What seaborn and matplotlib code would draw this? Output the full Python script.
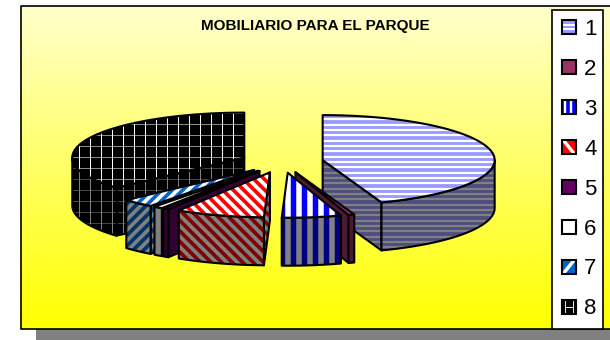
import numpy as np
import matplotlib
matplotlib.use("Agg")
import matplotlib.pyplot as plt
import seaborn as sns
from matplotlib.patches import Polygon, Rectangle, Patch
from matplotlib.collections import LineCollection
from matplotlib.legend_handler import HandlerBase

# ---- data (degrees of the 3D pie)
categories = ["1", "2", "3", "4", "5", "6", "7", "8"]
values = [160, 2, 20, 30, 2, 3, 11, 132]
title_text = "MOBILIARIO PARA EL PARQUE"

face_colors = ["#9999FF", "#993366", "#0000FF", "#FF0000", "#660066", "#FFFFFF", "#0066CC", "#000000"]
stripe_colors = ["#FFFFFF", None, "#FFFFFF", "#FFFFFF", None, None, "#FFFFFF", "#FFFFFF"]
patterns = ["h", None, "v", "d", None, None, "u", "g"]
draw_order = [7, 0, 1, 2, 6, 5, 4, 3]

sns.set_theme(style="white")
plt.rcParams["font.family"] = ["Liberation Sans", "DejaVu Sans"]

fig = plt.figure(figsize=(6.1, 3.4), dpi=100)
ax = fig.add_axes([0, 0, 1, 1])
ax.set_xlim(0, 610)
ax.set_ylim(340, 0)
ax.axis("off")
PX = 72 / fig.dpi

# chart frame, gradient and shadow
ax.add_patch(Rectangle((36, 320), 574, 20, fc="#808080", ec="none", zorder=0))
grad = np.linspace(0, 1, 256)[:, None]
img = np.zeros((256, 1, 3))
img[..., 0] = 1
img[..., 1] = 1
img[..., 2] = 0.80 * (1 - grad)
ax.imshow(img, extent=(20, 610, 329, 5), aspect="auto", zorder=1, interpolation="bilinear")
ax.set_xlim(0, 610)
ax.set_ylim(340, 0)
ax.plot([610, 20.5, 20.5, 610], [5.5, 5.5, 329, 329], color="black", lw=1.2, zorder=2)

ax.text(315, 26, title_text, ha="center", va="center", fontsize=11,
        fontweight="bold", color="black", zorder=5)

# pie geometry
CX, CY = 282, 162
RX, RY = 172, 45
EXPLODE = 0.24
DEPTH = 48


def darken(c, f=0.5):
    r = np.array(matplotlib.colors.to_rgb(c))
    return tuple(r * f)


def stripes(kind):
    """Segments covering the whole chart for a fill pattern, with per-segment widths."""
    if kind == "h":
        segs = [[(0, y), (610, y)] for y in np.arange(2, 340, 5.33)]
        return segs, [2.2] * len(segs)
    if kind == "v":
        segs = [[(x, 0), (x, 340)] for x in np.arange(2, 610, 11)]
        return segs, [5.5] * len(segs)
    if kind == "d":
        segs = [[(x, 0), (x + 340, 340)] for x in np.arange(-340, 610, 10.5)]
        return segs, [3.7] * len(segs)
    if kind == "u":
        segs = [[(x, 0), (x - 340, 340)] for x in np.arange(0, 950, 10.5)]
        return segs, [3.7] * len(segs)
    if kind == "g":
        vs = [[(x, 0), (x, 340)] for x in np.arange(1.5, 610, 11)]
        hs = [[(0, y), (610, y)] for y in np.arange(2.5, 340, 11)]
        return vs + hs, [1.0] * len(vs) + [0.55] * len(hs)
    return [], []


def fill(pts, base, stripe, kind, z, lw=1.5):
    poly = Polygon(pts, closed=True, fc=base, ec="none", zorder=z)
    ax.add_patch(poly)
    if kind and stripe:
        segs, w = stripes(kind)
        lc = LineCollection(segs, colors=[stripe], linewidths=np.array(w) * PX, zorder=z, capstyle="butt")
        ax.add_collection(lc, autolim=False)
        lc.set_clip_path(poly)
    ax.add_patch(Polygon(pts, closed=True, fc="none", ec="black", lw=lw, zorder=z, joinstyle="round"))


edges = np.concatenate([[0], np.cumsum(values)]) * 360.0 / np.sum(values)


def rim(apex, deg):
    t = np.radians(deg)
    return np.column_stack([apex[0] + RX * np.sin(t), apex[1] - RY * np.cos(t)])


z = 3.0
for i in draw_order:
    a0, a1 = edges[i], edges[i + 1]
    mid = np.radians((a0 + a1) / 2)
    apex = (CX + EXPLODE * RX * np.sin(mid), CY - EXPLODE * RY * np.cos(mid))
    base, stripe, kind = face_colors[i], stripe_colors[i], patterns[i]
    dark_base = darken(base)
    dark_stripe = darken(stripe) if stripe else None

    def side(pts):
        fill(pts, dark_base, dark_stripe, kind, z)

    # cut faces seen from the front
    for deg, visible in ((a0, a0 > 180), (a1, a1 < 180)):
        if visible:
            r = rim(apex, [deg])[0]
            side([apex, r, (r[0], r[1] + DEPTH), (apex[0], apex[1] + DEPTH)])
    # outer wall, front half only
    lo, hi = max(a0, 90), min(a1, 270)
    if hi > lo:
        arc = rim(apex, np.linspace(lo, hi, 60))
        side(np.vstack([arc, arc[::-1] + [0, DEPTH]]))
    # top face
    arc = rim(apex, np.linspace(a0, a1, 120))
    fill(np.vstack([[apex], arc]), base, stripe, kind, z + 0.01)
    z += 0.1


# legend
class KeyHandler(HandlerBase):
    def create_artists(self, legend, orig, xd, yd, width, height, fontsize, trans):
        s = 10.0
        x0, y0 = -xd + (width - s) / 2, -yd + (height - s) / 2
        rect = Rectangle((x0, y0), s, s, fc=orig.get_facecolor(), ec="none", transform=trans)
        arts = [rect]
        kind = orig.get_gid()
        ls = []
        if kind == "h":
            ls = [[(x0, y0 + f * s), (x0 + s, y0 + f * s)] for f in (0.35, 0.65)]
        elif kind == "v":
            ls = [[(x0 + f * s, y0), (x0 + f * s, y0 + s)] for f in (0.25, 0.68)]
        elif kind == "d":
            ls = [[(x0 + 0.1 * s, y0 + s), (x0 + 0.9 * s, y0)]]
        elif kind == "u":
            ls = [[(x0 + 0.1 * s, y0), (x0 + 0.9 * s, y0 + s)]]
        elif kind == "g":
            ls = [[(x0 + 0.2 * s, y0), (x0 + 0.2 * s, y0 + s)],
                  [(x0 + 0.8 * s, y0), (x0 + 0.8 * s, y0 + s)],
                  [(x0 + 0.2 * s, y0 + 0.5 * s), (x0 + 0.8 * s, y0 + 0.5 * s)]]
        if ls:
            w = {"h": 2, "v": 2.4, "d": 3.4, "u": 3.4, "g": 0.9}[kind]
            lc = LineCollection(ls, colors="white", linewidths=w * PX, transform=trans, capstyle="butt")
            arts.append(lc)
        arts.append(Rectangle((x0, y0), s, s, fc="none", ec="black", lw=1.5, transform=trans))
        return arts


ax.add_patch(Rectangle((552, 10), 51, 319, fc="white", ec="black", lw=1.2, zorder=6))
handles = []
for c, k in zip(face_colors, patterns):
    p = Patch(facecolor=c, label="")
    p.set_gid(k)
    handles.append(p)
leg = ax.legend(handles, categories, loc="upper left", bbox_to_anchor=(550.5, 10),
                bbox_transform=ax.transData, frameon=False, fontsize=16,
                handler_map={Patch: KeyHandler()}, handlelength=0.85, handleheight=0.8,
                handletextpad=0.26, labelspacing=0.84, borderpad=0.4, borderaxespad=0, labelcolor="black")
leg.set_zorder(7)

fig.savefig("out.png", dpi=100)
